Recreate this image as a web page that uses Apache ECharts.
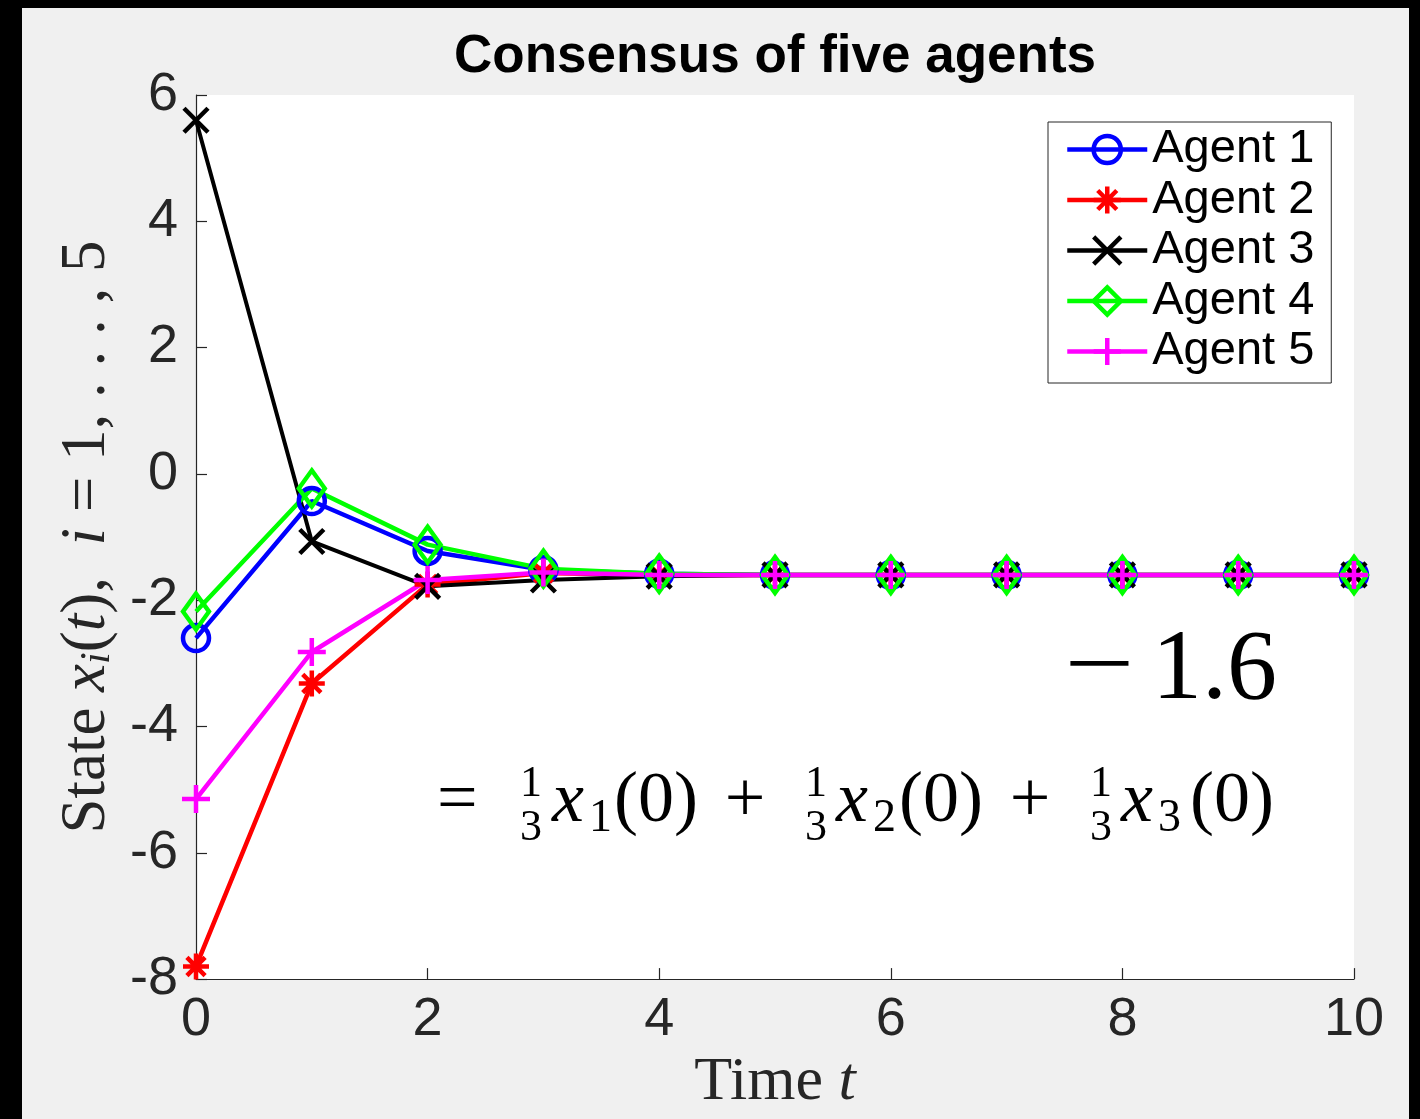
<!DOCTYPE html>
<html>
<head>
<meta charset="utf-8">
<title>Consensus of five agents</title>
<script src="https://cdn.jsdelivr.net/npm/echarts@6/dist/echarts.min.js"></script>
<style>
  html, body { margin: 0; padding: 0; background: #000; width: 1420px; height: 1119px; overflow: hidden; }
  #chart { position: absolute; left: 22px; top: 8px; width: 1387px; height: 1111px; background: #f0f0f0; }
</style>
</head>
<body>
<div id="chart"></div>
<script>
// Time steps and agent states x_i(t)
const times = [0, 1, 2, 3, 4, 5, 6, 7, 8, 9, 10];
const agent1 = [-2.6, -0.43, -1.22, -1.52, -1.58, -1.6, -1.6, -1.6, -1.6, -1.6, -1.6];
const agent2 = [-7.8, -3.32, -1.75, -1.57, -1.6, -1.6, -1.6, -1.6, -1.6, -1.6, -1.6];
const agent3 = [5.6, -1.07, -1.78, -1.68, -1.62, -1.6, -1.6, -1.6, -1.6, -1.6, -1.6];
const agent4 = [-2.18, -0.23, -1.12, -1.5, -1.58, -1.6, -1.6, -1.6, -1.6, -1.6, -1.6];
const agent5 = [-5.15, -2.82, -1.68, -1.56, -1.6, -1.6, -1.6, -1.6, -1.6, -1.6, -1.6];
const agentNames = ['Agent 1', 'Agent 2', 'Agent 3', 'Agent 4', 'Agent 5'];
const consensusValue = '1.6';

// Axis ranges
const xMin = 0, xMax = 10, xStep = 2;
const yMin = -8, yMax = 6, yStep = 2;

// Page offset of the chart container inside the dark frame
const OX = 22, OY = 8;

const SANS = '"Liberation Sans", Arial, Helvetica, sans-serif';
const SERIF = '"Liberation Serif", "Times New Roman", serif';
const AXIS_GRAY = '#262626';

// Marker shapes drawn as stroked paths
const SYM_X = 'path://M0,0L10,10M10,0L0,10';
const SYM_PLUS = 'path://M5,0L5,10M0,5L10,5';
const SYM_STAR = 'path://M5,0L5,10M0,5L10,5M1.5,1.5L8.5,8.5M8.5,1.5L1.5,8.5';

function pairs(values) { return times.map((t, k) => [t, values[k]]); }

function makeSeries(name, values, color, symbol, size, lw) {
  return {
    name: name,
    type: 'line',
    data: pairs(values),
    symbol: symbol,
    symbolSize: size,
    showAllSymbol: true,
    animation: false,
    lineStyle: { color: color, width: lw },
    itemStyle: { color: 'rgba(0,0,0,0)', borderColor: color, borderWidth: 4.5 },
    emphasis: { disabled: true },
    z: 3
  };
}

const series = [
  makeSeries(agentNames[0], agent1, '#0000ff', 'circle', 26, 4.5),
  makeSeries(agentNames[1], agent2, '#ff0000', SYM_STAR, 26, 4.5),
  makeSeries(agentNames[2], agent3, '#000000', SYM_X, 24, 4),
  makeSeries(agentNames[3], agent4, '#00ff00', 'diamond', [26, 36], 4.5),
  makeSeries(agentNames[4], agent5, '#ff00ff', SYM_PLUS, 28, 4.5)
];

// Text pieces of the consensus formula (page coordinates)
function txt(x, y, text, size, opts) {
  opts = opts || {};
  const el = {
    type: 'text',
    x: x - OX,
    y: y - OY,
    silent: true,
    z: 10,
    style: {
      text: text,
      fill: '#000',
      font: (opts.italic ? 'italic ' : '') + (opts.bold ? 'bold ' : '') + size + 'px ' + (opts.family || SERIF),
      align: opts.align || 'left',
      verticalAlign: opts.va || 'middle'
    }
  };
  if (opts.scaleX) el.scaleX = opts.scaleX;
  return el;
}

const EQ_Y = 802;
const EQ_F = 72;
const FR_F = 44;
const SUB_F = 46;
function fraction(cx) {
  return [txt(cx, EQ_Y - 18, '1', FR_F, { align: 'center' }), txt(cx, EQ_Y + 26, '3', FR_F, { align: 'center' })];
}

const graphics = [
  txt(775, 57, 'Consensus of five agents', 53, { bold: true, family: SANS, align: 'center' }),
  txt(1064, 670, '\u2212', 96, { scaleX: 1.3 }),
  txt(1277, 672, consensusValue, 100, { align: 'right' }),
  txt(437, EQ_Y, '=', EQ_F),
  ...fraction(531),
  txt(552, EQ_Y, 'x', EQ_F, { italic: true }),
  txt(589, EQ_Y + 17, '1', SUB_F),
  txt(614, EQ_Y, '(0)', EQ_F),
  txt(745, EQ_Y, '+', EQ_F, { align: 'center' }),
  ...fraction(816),
  txt(836, EQ_Y, 'x', EQ_F, { italic: true }),
  txt(873, EQ_Y + 17, '2', SUB_F),
  txt(899, EQ_Y, '(0)', EQ_F),
  txt(1030, EQ_Y, '+', EQ_F, { align: 'center' }),
  ...fraction(1101),
  txt(1121, EQ_Y, 'x', EQ_F, { italic: true }),
  txt(1158, EQ_Y + 17, '3', SUB_F),
  txt(1190, EQ_Y, '(0)', EQ_F)
];

const chart = echarts.init(document.getElementById('chart'), null, { renderer: 'canvas' });

chart.setOption({
  animation: false,
  backgroundColor: '#f0f0f0',
  grid: {
    left: 196 - OX,
    top: 95 - OY,
    width: 1354 - 196,
    height: 988 - 95,
    show: true,
    backgroundColor: '#ffffff',
    borderWidth: 0
  },
  legend: {
    left: 1048 - OX,
    top: 122 - OY,
    orient: 'vertical',
    backgroundColor: '#ffffff',
    borderColor: AXIS_GRAY,
    borderWidth: 1,
    padding: [4, 17, 8, 17],
    itemWidth: 80,
    itemHeight: 34,
    itemGap: 3.5,
    selectedMode: false,
    data: agentNames,
    lineStyle: { width: 4.5 },
    itemStyle: { borderWidth: 4.5 },
    textStyle: { fontFamily: SANS, fontSize: 47, color: '#000', lineHeight: 47 }
  },
  xAxis: {
    type: 'value',
    min: xMin,
    max: xMax,
    interval: xStep,
    name: '{r|Time }{i|t}',
    nameLocation: 'middle',
    nameGap: 66,
    nameTextStyle: {
      rich: {
        r: { fontFamily: SERIF, fontSize: 62, color: '#262626' },
        i: { fontFamily: SERIF, fontSize: 62, fontStyle: 'italic', color: '#262626' }
      }
    },
    splitLine: { show: false },
    axisLine: { show: true, onZero: false, lineStyle: { color: AXIS_GRAY, width: 1.2 } },
    axisTick: { show: true, inside: true, length: 11, lineStyle: { color: AXIS_GRAY, width: 1.2 } },
    axisLabel: { fontFamily: SANS, fontSize: 54, color: '#262626', margin: 14 }
  },
  yAxis: {
    type: 'value',
    min: yMin,
    max: yMax,
    interval: yStep,
    name: '{r|State }{i|x}{s|i}{r|(}{i|t}{r|),  }{i|i}{r| = 1, . . . , 5}',
    nameLocation: 'middle',
    nameRotate: 90,
    nameGap: 72,
    nameTextStyle: {
      rich: {
        r: { fontFamily: SERIF, fontSize: 63, color: '#262626', lineHeight: 64 },
        i: { fontFamily: SERIF, fontSize: 63, fontStyle: 'italic', color: '#262626', lineHeight: 64 },
        s: { fontFamily: SERIF, fontSize: 42, fontStyle: 'italic', color: '#262626', lineHeight: 42, verticalAlign: 'bottom' }
      }
    },
    splitLine: { show: false },
    axisLine: { show: true, onZero: false, lineStyle: { color: AXIS_GRAY, width: 1.2 } },
    axisTick: { show: true, inside: true, length: 11, lineStyle: { color: AXIS_GRAY, width: 1.2 } },
    axisLabel: { fontFamily: SANS, fontSize: 54, color: '#262626', margin: 18 }
  },
  series: series,
  graphic: graphics
});
</script>
</body>
</html>
